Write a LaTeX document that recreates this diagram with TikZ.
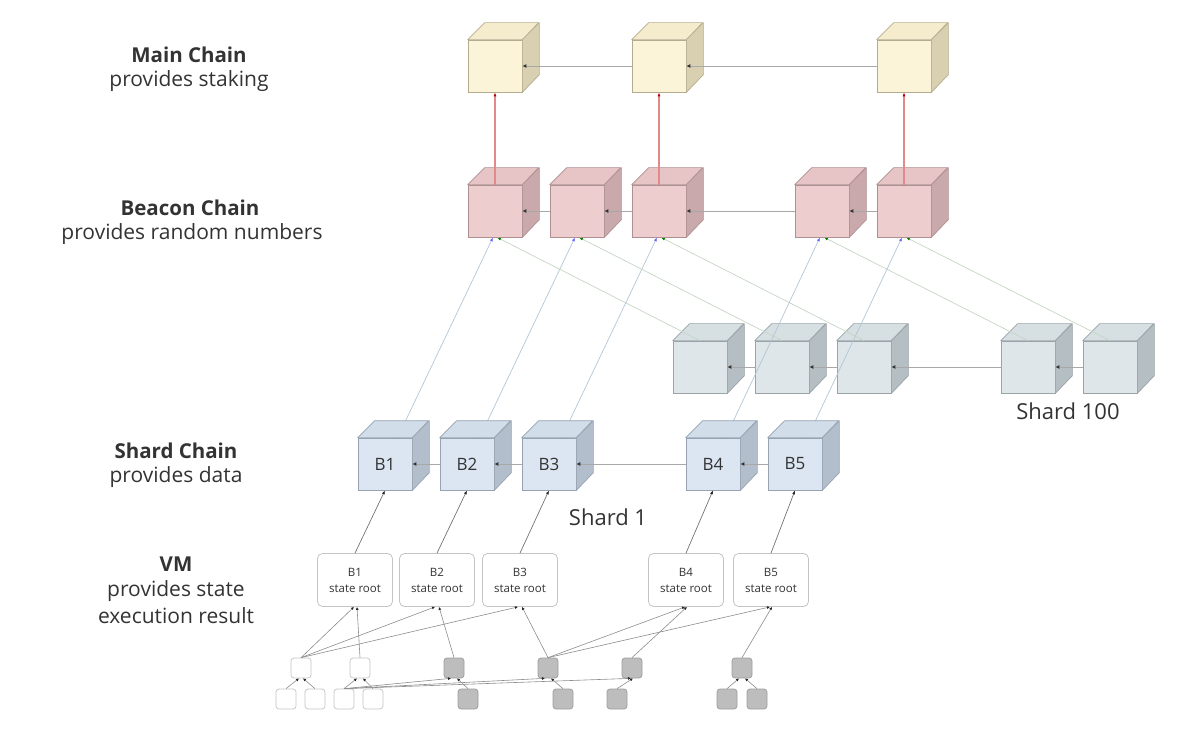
\documentclass[tikz,border=0pt]{standalone}
\usepackage{fontspec}
\setmainfont{Open Sans}
\usetikzlibrary{arrows.meta}
\definecolor{textgray}{HTML}{333333}
\definecolor{mainfront}{HTML}{FBF4D8}
\definecolor{maintop}{HTML}{F4ECCD}
\definecolor{mainside}{HTML}{D8D0B0}
\definecolor{mainedge}{HTML}{B4AC8E}
\definecolor{beaconfront}{HTML}{EDCDCE}
\definecolor{beacontop}{HTML}{E7C5C7}
\definecolor{beaconside}{HTML}{C9A9AB}
\definecolor{beaconedge}{HTML}{AE9092}
\definecolor{farfront}{HTML}{DEE6E9}
\definecolor{fartop}{HTML}{D6DFE2}
\definecolor{farside}{HTML}{B5BFC3}
\definecolor{faredge}{HTML}{9AA4A8}
\definecolor{shardfront}{HTML}{DCE6F2}
\definecolor{shardtop}{HTML}{D2DDEA}
\definecolor{shardside}{HTML}{B2BECB}
\definecolor{shardedge}{HTML}{97A3B1}
\definecolor{linkgray}{HTML}{A8A8A8}
\definecolor{stakered}{HTML}{E28A8A}
\definecolor{randblue}{HTML}{B2C6D6}
\definecolor{randgreen}{HTML}{C4D6C4}
\definecolor{leafgray}{HTML}{BDBDBD}
\definecolor{leafedge}{HTML}{9C9C9C}
\definecolor{boxgray}{HTML}{C4C4C4}
\pgfdeclarelayer{far}
\pgfdeclarelayer{links}
\pgfsetlayers{far,links,main}
\tikzset{
  cubefront/.style={rectangle,draw,line width=0.7pt,minimum width=54pt,minimum height=52pt,inner sep=0pt},
  face/.style={line width=0.7pt,line join=round},
  maincube/.style={cubefront,fill=mainfront,draw=mainedge},
  beaconcube/.style={cubefront,fill=beaconfront,draw=beaconedge},
  farcube/.style={cubefront,fill=farfront,draw=faredge},
  shardcube/.style={cubefront,fill=shardfront,draw=shardedge,text=textgray,font=\fontsize{17}{17}\selectfont},
  chain/.style={draw=linkgray,line width=0.8pt,-{Latex[length=4pt,width=4pt,color=black!80]}},
  stake/.style={draw=stakered,line width=1.1pt,-{Latex[length=4pt,width=3pt,color=red!70!black]}},
  randlink/.style={draw=randblue,line width=0.7pt,-{Latex[length=4pt,width=3pt,color=blue!60]}},
  farlink/.style={draw=randgreen,line width=0.7pt,-{Latex[length=4pt,width=3pt,color=green!50!black]}},
  feed/.style={draw=black!55,line width=0.7pt,-{Latex[length=4pt,width=3pt,color=black!85]}},
  vmbox/.style={rectangle,rounded corners=5pt,draw=boxgray,fill=white,line width=0.8pt,minimum width=75pt,minimum height=53pt,align=center,text=textgray,font=\fontsize{11.5}{16}\selectfont},
  leaf/.style={rectangle,rounded corners=3pt,minimum size=20pt,inner sep=0pt,draw=boxgray,fill=white,line width=0.7pt},
  gleaf/.style={leaf,fill=leafgray,draw=leafedge},
  leaflink/.style={draw=black!45,line width=0.6pt,-{Latex[length=3pt,width=3pt,color=black!85]}},
  layername/.style={text=textgray,font=\bfseries\fontsize{20.5}{22}\selectfont},
  layernote/.style={text=textgray,font=\fontsize{21}{22}\selectfont},
  shardname/.style={text=textgray,font=\fontsize{22}{24}\selectfont}
}

\begin{document}
\begin{tikzpicture}[x=1pt,y=-1pt]
\useasboundingbox (0,0) rectangle (1200,743);

% Left column: what each level provides
\node[layername] (mainT) at (189,55) {Main Chain};
\node[layernote] (mainS) at (189,81) {provides staking};
\node[layername] (beaconT) at (190,208) {Beacon Chain};
\node[layernote] (beaconS) at (192,234) {provides random numbers};
\node[layername] (shardT) at (176,451) {Shard Chain};
\node[layernote] (shardS) at (176,477) {provides data};
\node[layername] (vmT) at (176,564) {VM};
\node[layernote] (vmS) at (176,591) {provides state};
\node[layernote] (vmE) at (176,616) {execution result};

% Main chain and beacon chain cubes
\node[maincube] (m1) at (495,66) {};
\node[maincube] (m2) at (659,66) {};
\node[maincube] (m3) at (904,66) {};
\node[beaconcube] (b1) at (495,211) {};
\node[beaconcube] (b2) at (577,211) {};
\node[beaconcube] (b3) at (659,211) {};
\node[beaconcube] (b4) at (822,211) {};
\node[beaconcube] (b5) at (904,211) {};
\foreach \n/\grp in {m1/main,m2/main,m3/main,b1/beacon,b2/beacon,b3/beacon,b4/beacon,b5/beacon}
{
  \filldraw[face,fill=\grp top,draw=\grp edge] (\n.north west) -- ++(17,-17) -- ++(54,0) -- (\n.north east) -- cycle;
  \filldraw[face,fill=\grp side,draw=\grp edge] (\n.north east) -- ++(17,-17) -- ++(0,52) -- (\n.south east) -- cycle;
}
\foreach \a/\b in {m2/m1,m3/m2,b2/b1,b3/b2,b4/b3,b5/b4}
  \draw[chain] (\a.west) -- (\b.east);

% Shard 100, kept behind the links
\begin{pgfonlayer}{far}
\node[farcube] (f1) at (700,367) {};
\node[farcube] (f2) at (782,367) {};
\node[farcube] (f3) at (864,367) {};
\node[farcube] (f4) at (1028,367) {};
\node[farcube] (f5) at (1110,367) {};
\foreach \n in {f1,f2,f3,f4,f5}
{
  \filldraw[face,fill=fartop,draw=faredge] (\n.north west) -- ++(17,-17) -- ++(54,0) -- (\n.north east) -- cycle;
  \filldraw[face,fill=farside,draw=faredge] (\n.north east) -- ++(17,-17) -- ++(0,52) -- (\n.south east) -- cycle;
}
\foreach \a/\b in {f2/f1,f3/f2,f4/f3,f5/f4}
  \draw[chain] (\a.west) -- (\b.east);
\end{pgfonlayer}
\node[shardname] (far) at (1068,411) {Shard 100};

% Shard 1
\node[shardcube] (s1) at (385,464) {B1};
\node[shardcube] (s2) at (467,464) {B2};
\node[shardcube] (s3) at (549,464) {B3};
\node[shardcube] (s4) at (713,464) {B4};
\node[shardcube] (s5) at (795,464) {B5};
\foreach \n in {s1,s2,s3,s4,s5}
{
  \filldraw[face,fill=shardtop,draw=shardedge] (\n.north west) -- ++(17,-17) -- ++(54,0) -- (\n.north east) -- cycle;
  \filldraw[face,fill=shardside,draw=shardedge] (\n.north east) -- ++(17,-17) -- ++(0,52) -- (\n.south east) -- cycle;
}
\foreach \a/\b in {s2/s1,s3/s2,s4/s3,s5/s4}
  \draw[chain] (\a.west) -- (\b.east);
\node[shardname] (near) at (608,517) {Shard 1};

% Shards report to the beacon chain
\begin{pgfonlayer}{links}
\foreach \i in {1,...,5}
{
  \draw[randlink] (s\i.center) -- ([xshift=-2pt]b\i.south);
  \draw[farlink] (f\i.north) -- ([xshift=2pt]b\i.south);
}
\end{pgfonlayer}

% Beacon chain anchors to the main chain
\foreach \a/\b in {b1/m1,b3/m2,b5/m3}
  \draw[stake] (\a.north) -- (\b.south);

% VM state roots
\node[vmbox] (v1) at (355,580) {B1\\state root};
\node[vmbox] (v2) at (437,580) {B2\\state root};
\node[vmbox] (v3) at (520,580) {B3\\state root};
\node[vmbox] (v4) at (686,580) {B4\\state root};
\node[vmbox] (v5) at (771,580) {B5\\state root};
\foreach \i in {1,...,5}
  \draw[feed] (v\i.north) -- (s\i.south);

% State leaves
\node[leaf] (w1) at (301,668) {};
\node[leaf] (w2) at (360,668) {};
\node[gleaf] (g1) at (454,668) {};
\node[gleaf] (g2) at (548,668) {};
\node[gleaf] (g3) at (632,668) {};
\node[gleaf] (g4) at (742,668) {};
\node[leaf] (w3) at (286,699) {};
\node[leaf] (w4) at (315,699) {};
\node[leaf] (w5) at (344,699) {};
\node[leaf] (w6) at (373,699) {};
\node[gleaf] (g5) at (468,699) {};
\node[gleaf] (g6) at (563,699) {};
\node[gleaf] (g7) at (617,699) {};
\node[gleaf] (g8) at (727,699) {};
\node[gleaf] (g9) at (757,699) {};

\foreach \a/\b/\d in {w1/v1/-1,w2/v1/2,w1/v2/-2,g1/v2/2,w1/v3/-2,g2/v3/2,g2/v4/-1,g3/v4/1,g2/v5/-1,g4/v5/1}
  \draw[leaflink] (\a.north) -- ([xshift=\d pt]\b.south);
\foreach \a/\b/\d in {w3/w1/-2,w4/w1/2,w5/w2/-3,w6/w2/3,w5/g1/-3,g5/g1/3,w5/g2/-3,g6/g2/3,w5/g3/-1,g7/g3/1,g8/g4/-3,g9/g4/3}
  \draw[leaflink] (\a.north) -- ([xshift=\d pt]\b.south);

\end{tikzpicture}
\end{document}
